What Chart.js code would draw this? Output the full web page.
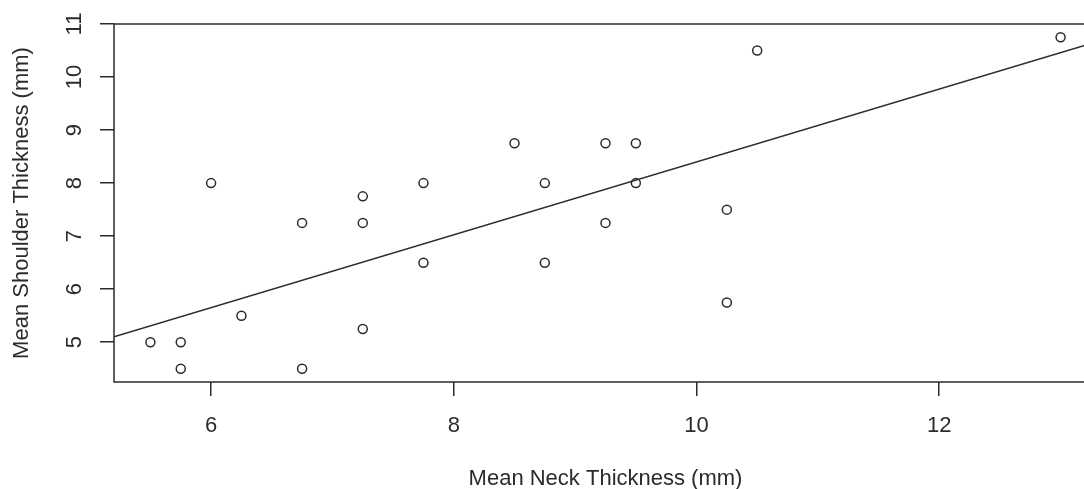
<!DOCTYPE html>
<html>
<head>
<meta charset="utf-8">
<script src="https://cdn.jsdelivr.net/npm/chart.js@4.4.1/dist/chart.umd.min.js"></script>
<style>
  html, body { margin: 0; padding: 0; background: #fff; overflow: hidden; }
  #plot { display: block; }
</style>
</head>
<body>
<canvas id="plot" width="1120" height="489"></canvas>
<script>
// neck vs shoulder thickness, one point per specimen (mm)
const neckThickness = [5.5, 5.75, 5.75, 6, 6.25, 6.75, 6.75, 7.25, 7.25, 7.25, 7.75, 7.75,
                       8.5, 8.75, 8.75, 9.25, 9.25, 9.5, 9.5, 10.25, 10.25, 10.5, 13];
const shoulderThickness = [5, 5, 4.5, 8, 5.5, 7.25, 4.5, 7.75, 7.25, 5.25, 8, 6.5,
                           8.75, 8, 6.5, 8.75, 7.25, 8.75, 8, 7.5, 5.75, 10.5, 10.75];
const xTicks = [6, 8, 10, 12];
const yTicks = [5, 6, 7, 8, 9, 10, 11];

// least squares line
const fitIntercept = 1.53;
const fitSlope = 0.687;

const xMin = 5.2, xMax = 13.3;
const yMin = 4.25, yMax = 11;

const ink = '#2b2b2b';
const font = { family: 'Liberation Sans, Arial, sans-serif', size: 22, lineHeight: 1 };

const points = neckThickness.map((x, i) => ({ x: x, y: shoulderThickness[i] }));
const fitLine = [xMin, xMax].map(x => ({ x: x, y: fitIntercept + fitSlope * x }));

// R-style box around the plotting region
const boxPlugin = {
    id: 'box',
    afterDraw(chart) {
        const a = chart.chartArea;
        const c = chart.ctx;
        c.save();
        c.strokeStyle = ink;
        c.lineWidth = 1.5;
        c.strokeRect(a.left, a.top, a.right - a.left, a.bottom - a.top);
        c.restore();
    }
};

new Chart(document.getElementById('plot').getContext('2d'), {
    type: 'scatter',
    data: {
        datasets: [
            {
                data: points,
                pointStyle: 'circle',
                pointRadius: 4.5,
                pointBorderWidth: 1.5,
                pointBorderColor: ink,
                pointBackgroundColor: 'rgba(0,0,0,0)',
                showLine: false
            },
            {
                type: 'line',
                data: fitLine,
                borderColor: ink,
                borderWidth: 1.5,
                pointRadius: 0,
                fill: false
            }
        ]
    },
    options: {
        responsive: false,
        animation: false,
        layout: { padding: { top: 20, right: 23, left: 0, bottom: 0 } },
        plugins: {
            legend: { display: false },
            tooltip: { enabled: false }
        },
        scales: {
            x: {
                type: 'linear',
                min: xMin,
                max: xMax,
                afterFit(scale) { scale.height = 107; },
                afterBuildTicks(scale) { scale.ticks = xTicks.map(v => ({ value: v })); },
                border: { display: false },
                grid: { drawOnChartArea: false, tickLength: 14, tickColor: ink, lineWidth: 1.5 },
                ticks: { font: font, color: ink, padding: 19, maxRotation: 0 },
                title: {
                    display: true,
                    text: 'Mean Neck Thickness (mm)',
                    font: font,
                    color: ink,
                    padding: { top: 0, bottom: -1 }
                }
            },
            y: {
                type: 'linear',
                min: yMin,
                max: yMax,
                afterFit(scale) { scale.width = 114; },
                afterBuildTicks(scale) { scale.ticks = yTicks.map(v => ({ value: v })); },
                border: { display: false },
                grid: { drawOnChartArea: false, tickLength: 14, tickColor: ink, lineWidth: 1.5 },
                ticks: { font: font, color: ink, padding: 13, minRotation: 90, maxRotation: 90, crossAlign: 'center' },
                title: {
                    display: true,
                    text: 'Mean Shoulder Thickness (mm)',
                    font: font,
                    color: ink,
                    padding: { top: 11, bottom: 0 }
                }
            }
        }
    },
    plugins: [boxPlugin]
});
</script>
</body>
</html>
